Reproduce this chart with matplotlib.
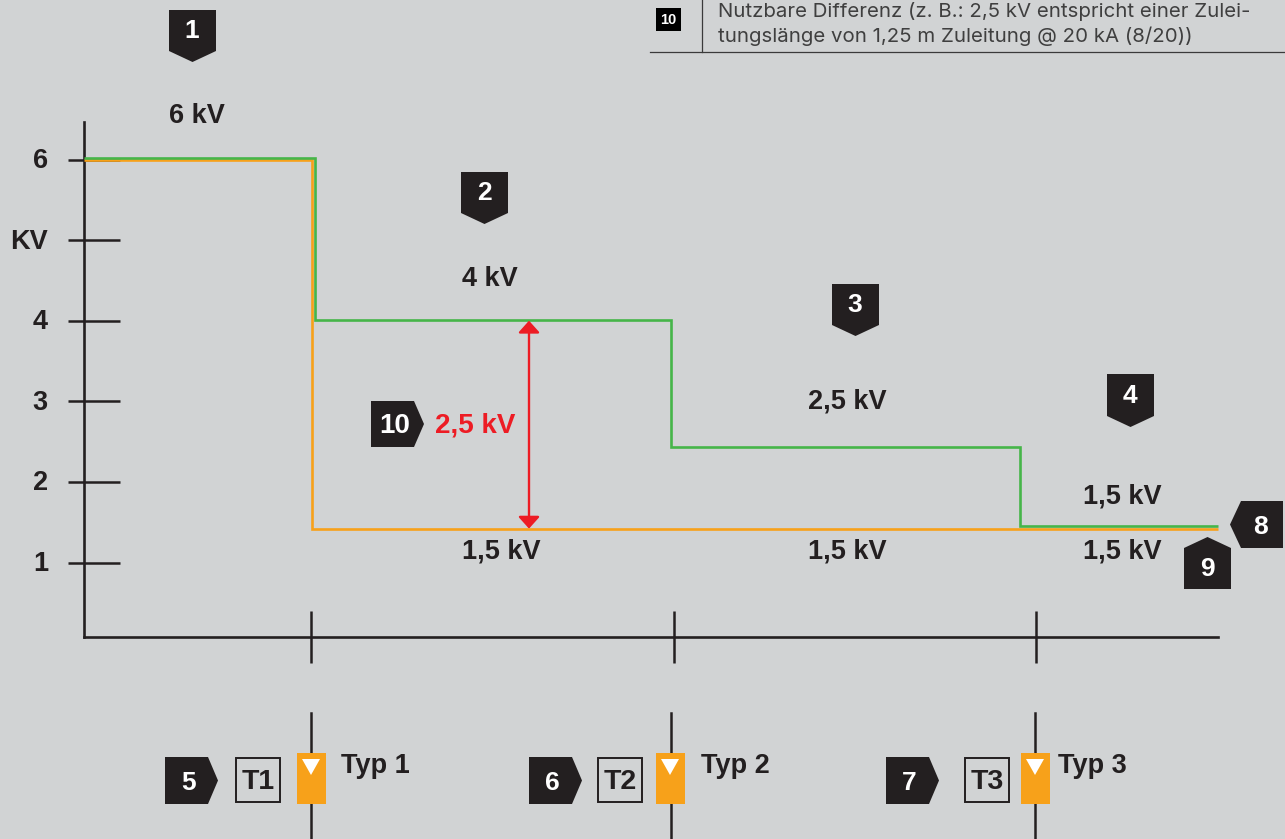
import matplotlib
matplotlib.use("Agg")
import matplotlib.pyplot as plt
from matplotlib.patches import Polygon, Rectangle
from matplotlib.transforms import ScaledTranslation

# --- data ---
y_tick_values = [6, 5, 4, 3, 2, 1]
y_tick_labels = ["6", "KV", "4", "3", "2", "1"]
stage_ticks = [1, 2, 3]
green_x = [0.374, 1.011, 1.011, 1.993, 1.993, 2.956, 2.956, 3.502]
green_y = [6.02, 6.02, 4.01, 4.01, 2.43, 2.43, 1.45, 1.45]
orange_x = [0.374, 1.004, 1.004, 3.502]
orange_y = [5.99, 5.99, 1.42, 1.42]
diff_top = 4.0
diff_bottom = 1.42
upper_labels = ["6 kV", "4 kV", "2,5 kV", "1,5 kV"]
lower_labels = ["1,5 kV", "1,5 kV", "1,5 kV"]
type_short = ["T1", "T2", "T3"]
type_long = ["Typ 1", "Typ 2", "Typ 3"]

BG = "#d1d3d4"
INK = "#231f20"
GREEN = "#46b549"
ORANGE = "#f7a11a"
RED = "#ed1c24"
FONT = "Liberation Sans"
W, H = 1285, 839


# pixel position in the reference -> data units
def X(px):
    return 1 + (px - 311) / 362.5


def Y(py):
    return 6 - (py - 159.5) / 80.6


def tag(ax, x0, y0, x1, y1, point, txt, size=19):
    """Black label with an arrow side; the corners are given in pixels."""
    if point == "down":
        pts = [(x0, y0), (x1, y0), (x1, y1 - 11), ((x0 + x1) / 2, y1), (x0, y1 - 11)]
        cx, cy = (x0 + x1) / 2 - 0.5, (y0 + y1 - 11) / 2 + 0.5
    elif point == "up":
        pts = [(x0, y0 + 11), ((x0 + x1) / 2, y0), (x1, y0 + 11), (x1, y1), (x0, y1)]
        cx, cy = (x0 + x1) / 2, (y0 + y1 + 11) / 2
    elif point == "right":
        pts = [(x0, y0), (x1 - 10, y0), (x1, (y0 + y1) / 2), (x1 - 10, y1), (x0, y1)]
        cx, cy = (x0 + x1 - 10) / 2 + 2, (y0 + y1) / 2 + 2
    else:
        pts = [(x0, (y0 + y1) / 2), (x0 + 11, y0), (x1, y0), (x1, y1), (x0 + 11, y1)]
        cx, cy = (x0 + x1 + 11) / 2 - 2, (y0 + y1) / 2 + 2
    ax.add_patch(Polygon([(X(a), Y(b)) for a, b in pts], closed=True,
                         facecolor=INK, edgecolor="none", zorder=5))
    ax.text(X(cx), Y(cy), txt, color="white", fontsize=size, fontweight="bold",
            family=FONT, ha="center", va="center", zorder=6)


def label(ax, px, py, txt, color=INK, size=19.5, ha="center"):
    ax.text(X(px), Y(py + 2), txt, color=color, fontsize=size, fontweight="bold",
            family=FONT, ha=ha, va="center", zorder=6)


fig = plt.figure(figsize=(W / 100, H / 100), dpi=100, facecolor=BG)
ax = fig.add_axes([0, 0, 1, 1], facecolor=BG)
ax.set_xlim(X(0), X(W))
ax.set_ylim(Y(H), Y(0))

# --- axes drawn with the real spines and ticks ---
for side in ["top", "right"]:
    ax.spines[side].set_visible(False)
ax.spines["left"].set_position(("data", X(84)))
ax.spines["left"].set_bounds(Y(637), Y(122))
ax.spines["bottom"].set_position(("data", Y(637)))
ax.spines["bottom"].set_bounds(X(84), X(1218))
for side in ["left", "bottom"]:
    ax.spines[side].set_linewidth(1.9)
    ax.spines[side].set_color(INK)
ax.set_xticks(stage_ticks)
ax.set_xticklabels([])
ax.tick_params(axis="x", direction="inout", length=38, width=1.8, color=INK)
ax.set_yticks(y_tick_values)
ax.set_yticklabels(y_tick_labels, fontsize=19.5, fontweight="bold", family=FONT, color=INK)
ax.tick_params(axis="y", length=0, pad=26)
for t in ax.get_yticklabels():
    t.set_transform(t.get_transform() + ScaledTranslation(0, 1.5 / 100, fig.dpi_scale_trans))
ax.hlines(y_tick_values, X(68), X(120), color=INK, lw=1.8, zorder=3)

# --- step lines ---
ax.plot(orange_x, orange_y, color=ORANGE, lw=1.9, zorder=4, solid_joinstyle="miter",
        solid_capstyle="butt")
ax.plot(green_x, green_y, color=GREEN, lw=1.9, zorder=4, solid_joinstyle="miter",
        solid_capstyle="butt")

# --- difference arrow ---
ax.annotate("", xy=(X(529), diff_top), xytext=(X(529), diff_bottom),
            arrowprops=dict(arrowstyle="<|-|>,head_length=0.4,head_width=0.36", color=RED,
                            lw=1.7, shrinkA=0, shrinkB=0, mutation_scale=18), zorder=5)
label(ax, 475, 423, "2,5 kV", color=RED, size=20)

# --- value labels ---
for (px, py), txt in zip([(197, 114), (490, 277), (847, 399), (1122, 495)], upper_labels):
    label(ax, px, py, txt)
for px, txt in zip([501, 847, 1122], lower_labels):
    label(ax, px, 549, txt)

# --- numbered tags ---
tag(ax, 169, 10, 216, 62, "down", "1")
tag(ax, 461, 172, 508, 224, "down", "2")
tag(ax, 832, 284, 879, 336, "down", "3")
tag(ax, 1107, 374, 1154, 427, "down", "4")
tag(ax, 165, 757, 218, 804, "right", "5")
tag(ax, 529, 757, 582, 804, "right", "6")
tag(ax, 886, 757, 939, 804, "right", "7")
tag(ax, 1230, 501, 1283, 548, "left", "8")
tag(ax, 1184, 537, 1231, 589, "up", "9")
tag(ax, 371, 401, 424, 447, "right", "10", size=20)

# --- device types under the axis ---
line_px = [311, 671, 1035]
box_px = [297, 656, 1021]
t_px = [236, 598, 965]
typ_px = [341, 701, 1058]
for lp, bp, tp, yp, short, long_name in zip(line_px, box_px, t_px, typ_px, type_short, type_long):
    ax.plot([X(lp), X(lp)], [Y(713), Y(839)], color=INK, lw=1.8, zorder=2, clip_on=True)
    ax.add_patch(Rectangle((X(bp), Y(804)), 29 / 362.5, 51 / 80.6, facecolor=ORANGE,
                           edgecolor="none", zorder=3))
    ax.add_patch(Polygon([(X(bp + 5), Y(759)), (X(bp + 23), Y(759)), (X(bp + 14), Y(775))],
                         closed=True, facecolor="white", edgecolor="none", zorder=4))
    ax.add_patch(Rectangle((X(tp), Y(802)), 44 / 362.5, 44 / 80.6, facecolor="none",
                           edgecolor=INK, lw=1.4, zorder=3))
    label(ax, tp + 22, 780, short, size=20.5)
    label(ax, yp, 764, long_name, ha="left")

# --- table fragment at the top ---
ax.plot([X(650), X(1285)], [Y(52), Y(52)], color="#3a3a3a", lw=0.9)
ax.plot([X(702), X(702)], [Y(0), Y(52)], color="#3a3a3a", lw=0.9)
ax.add_patch(Rectangle((X(656), Y(31)), 25 / 362.5, 23 / 80.6, facecolor="black", edgecolor="none"))
ax.text(X(668.5), Y(19.5), "10", color="white", fontsize=10.5, fontweight="bold",
        family=FONT, ha="center", va="center")
ax.text(X(718), Y(11), "Nutzbare Differenz (z. B.: 2,5 kV entspricht einer Zulei-",
        color="#3f3f3f", fontsize=14.7, family="Inter", ha="left", va="center")
ax.text(X(718), Y(36), "tungslänge von 1,25 m Zuleitung @ 20 kA (8/20))",
        color="#3f3f3f", fontsize=14.7, family="Inter", ha="left", va="center")

fig.savefig("out.png", dpi=100, facecolor=BG)
